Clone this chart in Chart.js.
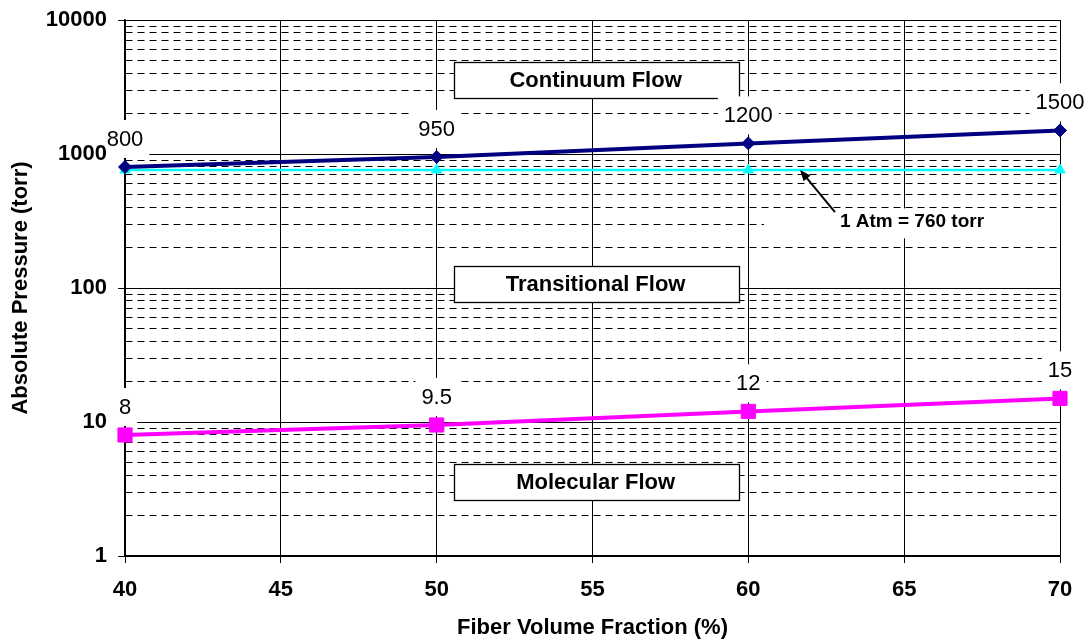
<!DOCTYPE html>
<html>
<head>
<meta charset="utf-8">
<title>Absolute Pressure vs Fiber Volume Fraction</title>
<script src="https://cdn.jsdelivr.net/npm/chart.js@4.4.1/dist/chart.umd.min.js"></script>
<style>
    html, body { margin: 0; padding: 0; background: #ffffff; }
    canvas { display: block; }
</style>
</head>
<body>
<canvas id="canvas_pressure" width="1091" height="641"></canvas>
<script>
// fiber volume fraction (%) and pressure readings (torr)
const fractions = [40, 50, 60, 70];
const continuumLimit = [800, 950, 1200, 1500];
const atmosphere = [760, 760, 760, 760];
const molecularLimit = [8, 9.5, 12, 15];

// log axis: labelled decades and the dashed steps between them
const decades = [1, 10, 100, 1000, 10000];
const decadeSteps = [2, 3, 4, 5, 6, 7, 8, 9];
const xTicks = [40, 45, 50, 55, 60, 65, 70];

// regime captions (x in %, y in torr)
const regions = [
    { text: 'Continuum Flow', x: 55.1, y: 3565 },
    { text: 'Transitional Flow', x: 55.1, y: 107 },
    { text: 'Molecular Flow', x: 55.1, y: 3.57 },
];
const atmNote = { text: '1 Atm = 760 torr', x: 65.25, y: 314, fromX: 62.78, fromY: 369, toX: 61.66, toY: 760 };

const FONT = "Arial, 'Liberation Sans', Helvetica, sans-serif";
// which series get value labels, and the values they print
const valueLabels = [
    { dataset: 0, values: continuumLimit },
    { dataset: 2, values: molecularLimit },
];

const chartPressure = document.getElementById('canvas_pressure');

const labelsPlugin = {
    id: 'pressureLabels',
    beforeDatasetsDraw(chart) {
        const ctx = chart.ctx;
        const xs = chart.scales.x, ys = chart.scales.y;
        ctx.save();

        // caption boxes over the grid
        regions.forEach(r => {
            const cx = Math.round(xs.getPixelForValue(r.x));
            const cy = Math.round(ys.getPixelForValue(r.y));
            ctx.fillStyle = '#ffffff';
            ctx.fillRect(cx - 142, cy - 18, 285, 36);
            ctx.strokeStyle = '#000000';
            ctx.lineWidth = 1.3;
            ctx.strokeRect(cx - 142 + 0.5, cy - 18 + 0.5, 285, 36);
        });

        // blank area under the 1 atm note
        const nx = xs.getPixelForValue(atmNote.x), ny = ys.getPixelForValue(atmNote.y);
        ctx.fillStyle = '#ffffff';
        ctx.fillRect(nx - 148, ny - 13, 295, 30);

        // white backing behind the value labels (kept clear of the tick labels)
        ctx.beginPath();
        ctx.rect(chart.chartArea.left - 15, 0, chart.width, chart.height);
        ctx.clip();
        ctx.font = '22px ' + FONT;
        valueLabels.forEach(set => {
            const meta = chart.getDatasetMeta(set.dataset);
            meta.data.forEach((pt, j) => {
                const w = ctx.measureText(String(set.values[j])).width + 12;
                const cy = pt.y - 27;
                ctx.fillStyle = '#ffffff';
                ctx.fillRect(pt.x - w / 2, cy - 20, w, 38);
            });
        });
        ctx.restore();
    },
    afterDatasetsDraw(chart) {
        const ctx = chart.ctx;
        const xs = chart.scales.x, ys = chart.scales.y;
        ctx.save();
        ctx.fillStyle = '#000000';
        ctx.textAlign = 'center';
        ctx.textBaseline = 'middle';

        ctx.font = 'bold 22px ' + FONT;
        regions.forEach(r => {
            ctx.fillText(r.text, xs.getPixelForValue(r.x), ys.getPixelForValue(r.y) + 1);
        });

        ctx.font = '22px ' + FONT;
        valueLabels.forEach(set => {
            const meta = chart.getDatasetMeta(set.dataset);
            meta.data.forEach((pt, j) => {
                ctx.fillText(String(set.values[j]), pt.x, pt.y - 27);
            });
        });

        // 1 atm note with arrow
        const x0 = xs.getPixelForValue(atmNote.fromX), y0 = ys.getPixelForValue(atmNote.fromY);
        const x1 = xs.getPixelForValue(atmNote.toX), y1 = ys.getPixelForValue(atmNote.toY);
        const ang = Math.atan2(y1 - y0, x1 - x0);
        ctx.strokeStyle = '#000000';
        ctx.lineWidth = 2;
        ctx.beginPath();
        ctx.moveTo(x0, y0);
        ctx.lineTo(x1 - 8 * Math.cos(ang), y1 - 8 * Math.sin(ang));
        ctx.stroke();
        ctx.beginPath();
        ctx.moveTo(x1, y1);
        ctx.lineTo(x1 - 11 * Math.cos(ang) + 4.5 * Math.sin(ang), y1 - 11 * Math.sin(ang) - 4.5 * Math.cos(ang));
        ctx.lineTo(x1 - 11 * Math.cos(ang) - 4.5 * Math.sin(ang), y1 - 11 * Math.sin(ang) + 4.5 * Math.cos(ang));
        ctx.closePath();
        ctx.fill();

        ctx.font = 'bold 19px ' + FONT;
        ctx.fillText(atmNote.text, xs.getPixelForValue(atmNote.x), ys.getPixelForValue(atmNote.y));
        ctx.restore();
    }
};

function toPoints(values) {
    return values.map((v, i) => ({ x: fractions[i], y: v }));
}

function isDecade(v) {
    return decades.includes(v);
}

new Chart(chartPressure, {
    type: 'line',
    data: {
        datasets: [{
            label: 'Continuum limit',
            data: toPoints(continuumLimit),
            borderColor: '#000080',
            backgroundColor: '#000080',
            borderWidth: 4,
            pointStyle: 'rectRot',
            pointRadius: 6.5,
            pointBorderWidth: 1,
            clip: false,
        }, {
            label: '1 Atm',
            data: toPoints(atmosphere),
            borderColor: '#00ffff',
            backgroundColor: '#00ffff',
            borderWidth: 2.5,
            pointStyle: 'triangle',
            pointRadius: 6,
            pointBorderWidth: 1,
            clip: false,
        }, {
            label: 'Molecular limit',
            data: toPoints(molecularLimit),
            borderColor: '#ff00ff',
            backgroundColor: '#ff00ff',
            borderWidth: 4,
            pointStyle: 'rect',
            pointRadius: 10,
            pointBorderWidth: 1,
            clip: false,
        }],
    },
    options: {
        responsive: false,
        animation: false,
        devicePixelRatio: 1,
        layout: {
            padding: { top: 20, right: 31, bottom: 0, left: 0 },
        },
        plugins: {
            legend: { display: false },
            tooltip: { enabled: false },
        },
        scales: {
            x: {
                type: 'linear',
                min: 40,
                max: 70,
                afterFit: (scale) => { scale.height = 85; },
                afterBuildTicks: (scale) => {
                    scale.ticks = xTicks.map(v => ({ value: v }));
                },
                ticks: {
                    color: '#000000',
                    padding: 14,
                    font: { family: FONT, size: 22, weight: 'bold' },
                },
                grid: {
                    color: '#000000',
                    lineWidth: 1,
                    tickLength: 7,
                    tickColor: '#000000',
                },
                border: { color: '#000000', width: 1.5 },
                title: {
                    display: true,
                    text: 'Fiber Volume Fraction (%)',
                    color: '#000000',
                    padding: { top: 0, bottom: 0 },
                    font: { family: FONT, size: 22, weight: 'bold' },
                },
            },
            y: {
                type: 'logarithmic',
                min: 1,
                max: 10000,
                afterFit: (scale) => {
                    scale.width = 125;
                    scale.paddingTop = 0;
                    scale.paddingBottom = 0;
                },
                afterBuildTicks: (scale) => {
                    const marks = [];
                    decades.forEach((d, i) => {
                        marks.push({ value: d, major: true });
                        if (i < decades.length - 1) {
                            decadeSteps.forEach(s => marks.push({ value: d * s, major: false }));
                        }
                    });
                    scale.ticks = marks;
                },
                ticks: {
                    autoSkip: false,
                    color: '#000000',
                    padding: 11,
                    font: { family: FONT, size: 22, weight: 'bold' },
                    callback: (v) => isDecade(v) ? String(v) : '',
                },
                grid: {
                    color: '#000000',
                    lineWidth: 1,
                    tickLength: 7,
                    tickColor: (c) => (c.tick && isDecade(c.tick.value)) ? '#000000' : 'rgba(0,0,0,0)',
                },
                border: {
                    color: '#000000',
                    width: 1.5,
                    dash: (c) => (c.tick && !isDecade(c.tick.value)) ? [7, 5] : [],
                },
                title: {
                    display: true,
                    text: 'Absolute Pressure (torr)',
                    color: '#000000',
                    padding: { top: 8, bottom: 0 },
                    font: { family: FONT, size: 22, weight: 'bold' },
                },
            },
        },
    },
    plugins: [labelsPlugin],
});
</script>
</body>
</html>
